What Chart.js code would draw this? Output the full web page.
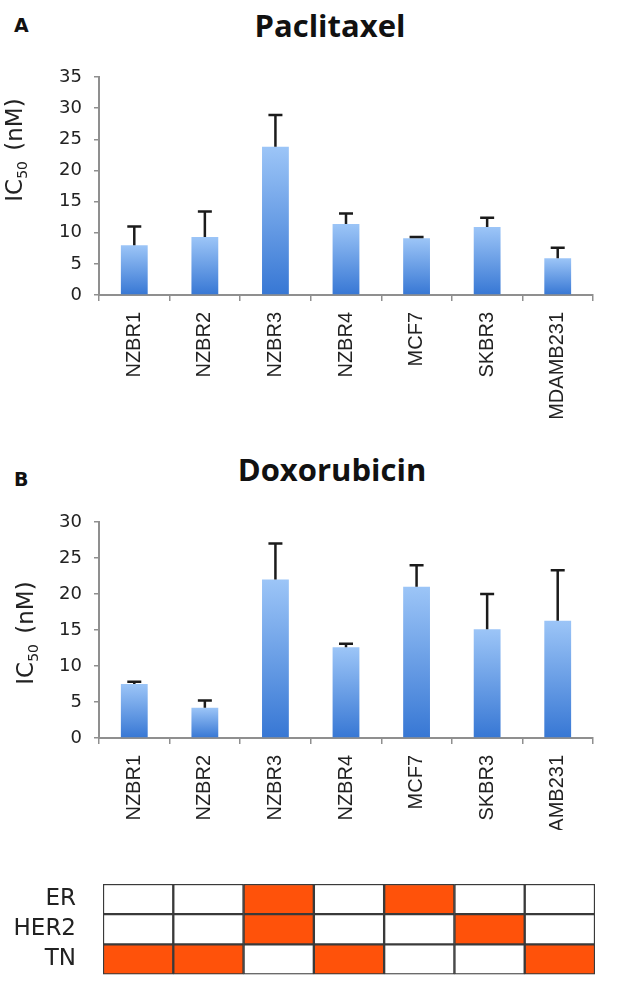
<!DOCTYPE html>
<html>
<head>
<meta charset="utf-8">
<script src="https://cdn.jsdelivr.net/npm/chart.js@4.4.1/dist/chart.umd.min.js"></script>
<style>
    body { margin: 0; background: #fff; }
    #page { position: relative; width: 630px; height: 987px; overflow: hidden; }
    canvas { position: absolute; left: 0; }
    .panel-tag { position: absolute; left: 14px; font: bold 19px "DejaVu Sans", sans-serif; line-height: 19px; color: #111; }
    .chart-title {
        position: absolute; left: 0; width: 660px; text-align: center;
        font: bold 31px "Open Sans", Lato, sans-serif; line-height: 37px; color: #111;
    }
</style>
</head>
<body>
<div id="page">
    <div class="panel-tag" style="top: 16px;">A</div>
    <div class="chart-title" style="top: 7px;">Paclitaxel</div>
    <canvas id="chartA" width="630" height="427" style="top: 0;"></canvas>
    <div class="panel-tag" style="top: 470px;">B</div>
    <div class="chart-title" style="top: 451px; width: 664px;">Doxorubicin</div>
    <canvas id="chartB" width="630" height="390" style="top: 440px;"></canvas>
    <canvas id="receptors" width="630" height="117" style="top: 870px;"></canvas>
</div>
<script>
const cellLines = ['NZBR1', 'NZBR2', 'NZBR3', 'NZBR4', 'MCF7', 'SKBR3', 'MDAMB231'];

// IC50 means and upper error (SD), nM
const paclitaxelMean = [8.0, 9.3, 23.8, 11.4, 9.1, 10.9, 5.9];
const paclitaxelSd = [3.0, 4.1, 5.1, 1.7, 0.2, 1.5, 1.7];
const doxorubicinMean = [7.5, 4.2, 22.0, 12.6, 21.0, 15.1, 16.3];
const doxorubicinSd = [0.3, 1.0, 5.0, 0.5, 3.0, 4.9, 7.0];

// receptor status per cell line (1 = positive)
const receptorRows = ['ER', 'HER2', 'TN'];
const erStatus = [0, 0, 1, 0, 1, 0, 0];
const her2Status = [0, 0, 1, 0, 0, 1, 0];
const tnStatus = [1, 1, 0, 1, 0, 0, 1];

const SANS = '"Liberation Sans", Arial, sans-serif';
const WIDE = '"DejaVu Sans", sans-serif';
const AXIS_GREY = '#8f8f8f';
const ORANGE = '#ff520a';

const errorBars = {
    id: 'errorBars',
    afterDatasetsDraw(chart, args, opts) {
        const meta = chart.getDatasetMeta(0);
        const values = chart.data.datasets[0].data;
        const y = chart.scales.y;
        const ctx = chart.ctx;
        ctx.save();
        ctx.strokeStyle = '#1b1b1b';
        ctx.lineWidth = 2.5;
        meta.data.forEach((bar, i) => {
            const top = y.getPixelForValue(values[i] + opts.errors[i]);
            ctx.beginPath();
            ctx.moveTo(bar.x, bar.y);
            ctx.lineTo(bar.x, top);
            ctx.moveTo(bar.x - 7, top);
            ctx.lineTo(bar.x + 7, top);
            ctx.stroke();
        });
        ctx.restore();
    },
};

// "IC50 (nM)" with subscript, rotated; x = baseline, y = centre
const icTitle = {
    id: 'icTitle',
    afterDraw(chart, args, opts) {
        const ctx = chart.ctx;
        const big = '23px ' + WIDE;
        const small = '14px ' + WIDE;
        ctx.save();
        ctx.translate(opts.x, opts.y);
        ctx.rotate(-Math.PI / 2);
        ctx.fillStyle = '#222';
        ctx.textBaseline = 'alphabetic';
        ctx.font = big;
        const w1 = ctx.measureText('IC').width;
        const w3 = ctx.measureText(' (nM)').width;
        ctx.font = small;
        const w2 = ctx.measureText('50').width;
        let x = -(w1 + w2 + w3 + 3) / 2;
        ctx.font = big;
        ctx.fillText('IC', x, 0);
        x += w1;
        ctx.font = small;
        ctx.fillText('50', x, 5);
        x += w2 + 3;
        ctx.font = big;
        ctx.fillText(' (nM)', x, 0);
        ctx.restore();
    },
};

function barGradient(context) {
    const chart = context.chart;
    const y = chart.scales.y;
    if (!y || context.raw == null) return '#6b9fe6';
    const top = y.getPixelForValue(context.raw);
    const bottom = y.getPixelForValue(0);
    if (!isFinite(top) || !isFinite(bottom) || top === bottom) return '#6b9fe6';
    const g = chart.ctx.createLinearGradient(0, top, 0, bottom);
    g.addColorStop(0, '#9cc5f7');
    g.addColorStop(1, '#3777d4');
    return g;
}

function makeIcChart(id, means, sds, yMax, cfg) {
    return new Chart(document.getElementById(id), {
        type: 'bar',
        data: {
            labels: cellLines,
            datasets: [{
                data: means,
                backgroundColor: barGradient,
                borderWidth: 0,
                barPercentage: 0.38,
                categoryPercentage: 1,
            }],
        },
        options: {
            responsive: false,
            animation: false,
            layout: { padding: { left: 0, right: 37, top: cfg.top, bottom: 0 } },
            plugins: {
                legend: { display: false },
                tooltip: { enabled: false },
                errorBars: { errors: sds },
                icTitle: cfg.yTitle,
            },
            scales: {
                x: {
                    afterFit(scale) { scale.height = cfg.xHeight; },
                    border: { display: true, color: AXIS_GREY, width: 2 },
                    grid: { display: true, drawOnChartArea: false, drawTicks: true, tickLength: 6, offset: true, color: AXIS_GREY, lineWidth: 1.5 },
                    ticks: {
                        color: '#222',
                        font: { family: SANS, size: 20 },
                        minRotation: 90,
                        maxRotation: 90,
                        padding: 11,
                        autoSkip: false,
                    },
                },
                y: {
                    min: 0,
                    max: yMax,
                    afterFit(scale) { scale.width = 99; },
                    border: { display: true, color: AXIS_GREY, width: 2 },
                    grid: { display: true, drawOnChartArea: false, drawTicks: true, tickLength: 5, color: AXIS_GREY, lineWidth: 1.5 },
                    ticks: {
                        stepSize: 5,
                        color: '#222',
                        font: { family: WIDE, size: 18 },
                        padding: 12,
                    },
                },
            },
        },
        plugins: [errorBars, icTitle],
    });
}

makeIcChart('chartA', paclitaxelMean, paclitaxelSd, 35, {
    top: 77,
    xHeight: 132,
    yTitle: { x: 22, y: 150 },
});
makeIcChart('chartB', doxorubicinMean, doxorubicinSd, 30, {
    top: 82,
    xHeight: 92,
    yTitle: { x: 33, y: 193 },
});

// receptor status grid: one stacked horizontal bar segment per cell
const statusByRow = [erStatus, her2Status, tnStatus];
new Chart(document.getElementById('receptors'), {
    type: 'bar',
    data: {
        labels: receptorRows,
        datasets: cellLines.map((line, col) => ({
            label: line,
            data: receptorRows.map(() => 1),
            backgroundColor: statusByRow.map((row) => (row[col] ? ORANGE : '#ffffff')),
            borderColor: '#3a3a3a',
            borderWidth: 1.5,
            borderSkipped: false,
            barPercentage: 1,
            categoryPercentage: 1,
        })),
    },
    options: {
        indexAxis: 'y',
        responsive: false,
        animation: false,
        layout: { padding: { left: 0, right: 35, top: 14, bottom: 9 } },
        plugins: { legend: { display: false }, tooltip: { enabled: false } },
        scales: {
            x: { stacked: true, display: false, min: 0, max: cellLines.length },
            y: {
                stacked: true,
                afterFit(scale) { scale.width = 103; },
                border: { display: false },
                grid: { display: true, drawOnChartArea: false, drawTicks: true, tickLength: 26, color: 'rgba(0,0,0,0)' },
                ticks: { color: '#222', font: { family: WIDE, size: 23, lineHeight: 1 }, padding: 1 },
            },
        },
    },
});
</script>
</body>
</html>
